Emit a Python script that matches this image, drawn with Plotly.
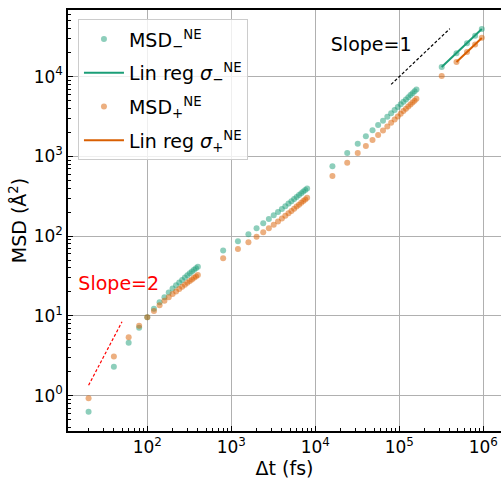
import numpy as np
import plotly.graph_objects as go

# Time lags (fs)
dt = [20, 40, 60, 80, 100, 120, 140, 160, 180, 200, 220, 240, 260, 280, 300,
      320, 340, 360, 380, 400,
      800, 1200, 1600, 2000, 2400, 2800, 3200, 3600, 4000, 4400, 4800, 5200,
      5600, 6000, 6400, 6800, 7200, 7600, 8000,
      16000, 24000, 32000, 40000, 48000, 56000, 64000, 72000, 80000, 88000,
      96000, 104000, 112000, 120000, 128000, 136000, 144000, 152000, 160000,
      320000, 480000, 640000, 800000, 960000]

# MSD (Å^2) for the minus species
msd_minus = [0.63, 2.3, 4.6, 7.1, 9.6, 12.3, 14.8, 17.2, 19.6, 22.0, 24.2, 26.3,
             28.3, 30.3, 32.3, 34.2, 36.1, 37.9, 39.7, 41.5,
             65.9, 86.2, 105.5, 125.5, 145, 164, 183, 201, 219, 237, 256, 274,
             293, 310, 329, 345, 362, 380, 396,
             752, 1100, 1440, 1785, 2125, 2470, 2805, 3145, 3485, 3825, 4165,
             4510, 4850, 5190, 5530, 5870, 6210, 6560, 6900,
             13240, 19650, 26200, 32650, 39600]

# MSD (Å^2) for the plus species
msd_plus = [0.93, 3.1, 5.4, 7.55, 9.6, 11.5, 13.6, 15.5, 17.2, 18.8, 20.3, 21.8,
            23.2, 24.6, 26.0, 27.4, 28.7, 30.0, 31.3, 32.6,
            52.8, 69.2, 83.8, 98.6, 112, 126, 139, 153, 167, 180, 194, 207,
            221, 235, 248, 262, 276, 289, 303,
            570, 835, 1100, 1352, 1607, 1860, 2110, 2380, 2645, 2910, 3175,
            3440, 3700, 3960, 4220, 4480, 4740, 5000, 5270,
            10200, 15300, 20400, 25400, 30700]

# Linear-regression fits in the long-time regime
fit_minus_x = [320000, 480000, 640000, 800000, 960000]
fit_minus_y = [13250, 19830, 26400, 32980, 39550]
fit_plus_x = [480000, 640000, 800000, 960000]
fit_plus_y = [15290, 20390, 25500, 30600]

# Reference power-law guides
slope2_x = [20, 50]
slope2_y = [1.35, 8.44]
slope1_x = [80000, 400000]
slope1_y = [8000, 40000]

label_x = [45.7, 46300]
label_y = [23.9, 24000]
label_text = ["Slope=2", "Slope=1"]
label_color = ["red", "black"]

GREEN = "#1b9e77"
ORANGE = "#d95f02"
FONT = "DejaVu Sans"

fig = go.Figure()

fig.add_trace(go.Scatter(
    x=dt, y=msd_minus, mode="markers", name="MSD<sub>−</sub><sup>NE</sup>",
    legendgroup="a",
    marker=dict(color=GREEN, size=6, opacity=0.5, line=dict(width=0))))
fig.add_trace(go.Scatter(
    x=fit_minus_x, y=fit_minus_y, mode="lines",
    name="Lin reg <i>σ</i><sub>−</sub><sup>NE</sup>", legendgroup="b",
    line=dict(color=GREEN, width=2)))
fig.add_trace(go.Scatter(
    x=dt, y=msd_plus, mode="markers", name="MSD<sub>+</sub><sup>NE</sup>",
    legendgroup="c",
    marker=dict(color=ORANGE, size=6, opacity=0.5, line=dict(width=0))))
fig.add_trace(go.Scatter(
    x=fit_plus_x, y=fit_plus_y, mode="lines",
    name="Lin reg <i>σ</i><sub>+</sub><sup>NE</sup>", legendgroup="d",
    line=dict(color=ORANGE, width=2)))

fig.add_trace(go.Scatter(
    x=slope2_x, y=slope2_y, mode="lines", showlegend=False,
    line=dict(color="red", width=1.2, dash="3px,2px")))
fig.add_trace(go.Scatter(
    x=slope1_x, y=slope1_y, mode="lines", showlegend=False,
    line=dict(color="black", width=1.2, dash="3px,2px")))

for lx, ly, lt, lc in zip(label_x, label_y, label_text, label_color):
    fig.add_trace(go.Scatter(
        x=[lx], y=[ly], mode="text", text=[lt], showlegend=False,
        textposition="middle center",
        textfont=dict(family=FONT, size=19, color=lc)))

xt = [100, 1000, 10000, 100000, 1000000]
yt = [1, 10, 100, 1000, 10000]

common = dict(
    type="log", showgrid=True, gridcolor="#b0b0b0", gridwidth=1,
    showline=True, linecolor="black", linewidth=1.5,
    ticks="inside", ticklen=5, tickwidth=1, tickcolor="black",
    tickfont=dict(family=FONT, size=17, color="black"),
    minor=dict(ticks="inside", ticklen=3, tickwidth=0.8, tickcolor="black",
               dtick="D1", showgrid=False),
    zeroline=False,
)

fig.update_xaxes(
    **common, range=[1.056, 6.211], mirror=True,
    tickvals=xt, ticktext=["10<sup>%d</sup>" % int(np.log10(v)) for v in xt],
    title=dict(text="Δt (fs)", font=dict(family=FONT, size=19, color="black"),
               standoff=8),
)
fig.update_yaxes(
    **common, range=[-0.443, 4.836],
    tickvals=yt, ticktext=["10<sup>%d</sup>" % int(np.log10(v)) for v in yt],
    title=dict(text="MSD (Å<sup>2</sup>)",
               font=dict(family=FONT, size=19, color="black"), standoff=2),
)

fig.update_layout(
    width=501, height=479,
    margin=dict(l=68, r=0, t=10, b=48, pad=0),
    paper_bgcolor="white", plot_bgcolor="white",
    font=dict(family=FONT, color="black"),
    legend=dict(x=0.023, y=0.978, xanchor="left", yanchor="top",
                bgcolor="rgba(255,255,255,0.8)", bordercolor="#cccccc",
                borderwidth=1, font=dict(family=FONT, size=19, color="black"),
                tracegroupgap=6, itemwidth=40),
)

fig.write_html("out.html")
